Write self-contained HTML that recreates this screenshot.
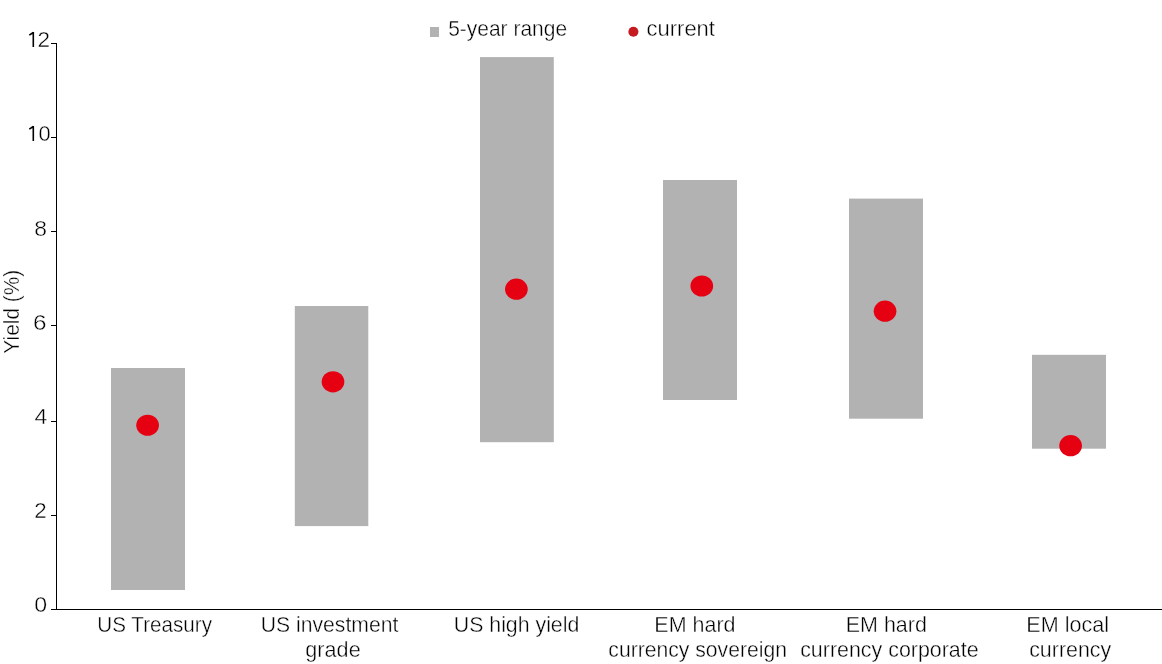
<!DOCTYPE html><html><head><meta charset="utf-8"><style>html,body{margin:0;padding:0;background:#fff;width:1162px;height:664px;overflow:hidden}svg{display:block;will-change:transform}text{font-family:"Liberation Sans",sans-serif;font-size:22.40px;fill:#000000;stroke:#fff;stroke-width:0.4px;}</style></head><body>
<svg width="1162" height="664" viewBox="0 0 1162 664">
<rect x="111.0" y="368.0" width="74.0" height="222.0" fill="#b2b2b2"/>
<rect x="294.8" y="306.0" width="73.5" height="220.1" fill="#b2b2b2"/>
<rect x="480.0" y="57.1" width="73.8" height="385.1" fill="#b2b2b2"/>
<rect x="663.0" y="180.0" width="74.0" height="220.0" fill="#b2b2b2"/>
<rect x="849.0" y="198.6" width="74.0" height="220.1" fill="#b2b2b2"/>
<rect x="1032.0" y="354.8" width="74.0" height="93.9" fill="#b2b2b2"/>
<ellipse cx="147.60" cy="425.25" rx="11.35" ry="10.60" fill="#e50012"/>
<ellipse cx="333.00" cy="381.80" rx="11.35" ry="10.60" fill="#e50012"/>
<ellipse cx="516.40" cy="289.20" rx="11.35" ry="10.60" fill="#e50012"/>
<ellipse cx="701.80" cy="286.00" rx="11.35" ry="10.60" fill="#e50012"/>
<ellipse cx="885.05" cy="311.20" rx="11.35" ry="10.60" fill="#e50012"/>
<ellipse cx="1070.60" cy="445.70" rx="11.35" ry="10.60" fill="#e50012"/>
<rect x="56" y="43" width="1" height="567" fill="#000"/>
<rect x="51" y="609" width="1111" height="1" fill="#000"/>
<path d="M29.3,35.20 L33.3,32.50 M33.3,32.10 V46.90" stroke="#000000" stroke-width="1.6" fill="none"/>
<path d="M29.3,129.20 L33.3,126.50 M33.3,126.10 V140.90" stroke="#000000" stroke-width="1.6" fill="none"/>
<rect x="51" y="43" width="5" height="1" fill="#000"/>
<rect x="51" y="137" width="5" height="1" fill="#000"/>
<rect x="51" y="231" width="5" height="1" fill="#000"/>
<rect x="51" y="325" width="5" height="1" fill="#000"/>
<rect x="51" y="421" width="5" height="1" fill="#000"/>
<rect x="51" y="515" width="5" height="1" fill="#000"/>
<rect x="51" y="609" width="5" height="1" fill="#000"/>
<text x="37.55" y="46.80" textLength="12.54" lengthAdjust="spacingAndGlyphs">2</text>
<text x="38.55" y="140.90" textLength="12.16" lengthAdjust="spacingAndGlyphs">0</text>
<text x="34.35" y="235.90" textLength="12.73" lengthAdjust="spacingAndGlyphs">8</text>
<text x="32.95" y="330.40" textLength="13.50" lengthAdjust="spacingAndGlyphs">6</text>
<text x="34.55" y="423.80" textLength="12.80" lengthAdjust="spacingAndGlyphs">4</text>
<text x="34.35" y="517.90" textLength="12.40" lengthAdjust="spacingAndGlyphs">2</text>
<text x="34.35" y="611.80" textLength="12.88" lengthAdjust="spacingAndGlyphs">0</text>
<text x="97.35" y="632.00" textLength="114.64" lengthAdjust="spacingAndGlyphs">US Treasury</text>
<text x="260.75" y="632.00" textLength="137.57" lengthAdjust="spacingAndGlyphs">US investment</text>
<text x="305.35" y="657.00" textLength="55.33" lengthAdjust="spacingAndGlyphs">grade</text>
<text x="453.75" y="632.00" textLength="125.57" lengthAdjust="spacingAndGlyphs">US high yield</text>
<text x="654.35" y="632.00" textLength="81.12" lengthAdjust="spacingAndGlyphs">EM hard</text>
<text x="608.35" y="657.00" textLength="178.59" lengthAdjust="spacingAndGlyphs">currency sovereign</text>
<text x="845.75" y="632.00" textLength="81.08" lengthAdjust="spacingAndGlyphs">EM hard</text>
<text x="800.15" y="657.00" textLength="178.48" lengthAdjust="spacingAndGlyphs">currency corporate</text>
<text x="1026.35" y="632.00" textLength="82.71" lengthAdjust="spacingAndGlyphs">EM local</text>
<text x="1029.15" y="657.00" textLength="82.09" lengthAdjust="spacingAndGlyphs">currency</text>
<text x="448.15" y="35.90" textLength="118.95" lengthAdjust="spacingAndGlyphs">5-year range</text>
<text x="646.55" y="35.70" textLength="68.38" lengthAdjust="spacingAndGlyphs">current</text>
<text transform="translate(18.8,311.70) rotate(-90)" x="0" y="0" text-anchor="middle" textLength="83.90" lengthAdjust="spacingAndGlyphs">Yield (%)</text>
<rect x="430" y="27" width="9" height="10" fill="#b2b2b2"/>
<circle cx="633.4" cy="31.8" r="5.05" fill="#c41a20"/>
</svg></body></html>
